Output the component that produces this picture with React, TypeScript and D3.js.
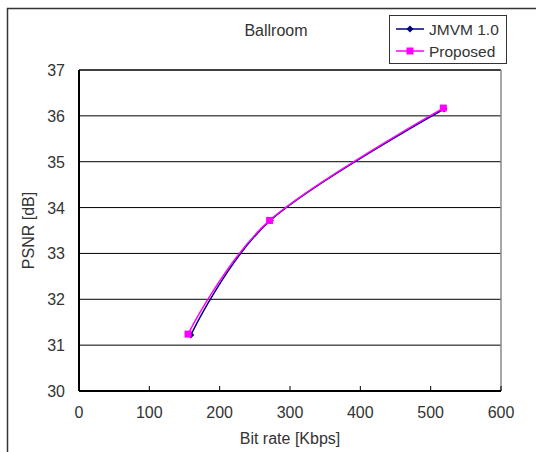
import React from 'react';
import * as d3 from 'd3';

const xTicks = [0, 100, 200, 300, 400, 500, 600];
const yTicks = [30, 31, 32, 33, 34, 35, 36, 37];
const jmvmRate = [159, 272, 519];
const jmvmPsnr = [31.22, 33.72, 36.15];
const propRate = [155, 271, 518];
const propPsnr = [31.24, 33.72, 36.17];

const W = 536;
const H = 452;
const m = { left: 79, right: 501, top: 70, bottom: 391 };
const font = '"Liberation Sans", Arial, sans-serif';

export default function App() {
  const x = d3.scaleLinear().domain([0, 600]).range([m.left, m.right]);
  const y = d3.scaleLinear().domain([30, 37]).range([m.bottom, m.top]);

  const line = d3
    .line<[number, number]>()
    .x((d) => x(d[0]))
    .y((d) => y(d[1]))
    .curve(d3.curveCardinal.tension(0));

  const jmvm: [number, number][] = jmvmRate.map((r, i) => [r, jmvmPsnr[i]]);
  const prop: [number, number][] = propRate.map((r, i) => [r, propPsnr[i]]);

  const diamond = (cx: number, cy: number, s: number) =>
    `M${cx},${cy - s}L${cx + s},${cy}L${cx},${cy + s}L${cx - s},${cy}Z`;

  return (
    <svg
      width={W}
      height={H}
      style={{ position: 'absolute', left: 0, top: 0, background: '#fff' }}
      fontFamily={font}
    >
      {/* outer frame */}
      <path d={`M${W + 5},8.5H7.5V${H + 5}`} fill="none" stroke="#333" strokeWidth={1.5} />

      {/* gridlines */}
      {yTicks.slice(1, -1).map((t) => (
        <line key={t} x1={m.left} x2={m.right} y1={y(t)} y2={y(t)} stroke="#000" strokeWidth={1} />
      ))}
      {/* plot border */}
      <line x1={m.left} x2={m.right} y1={m.top} y2={m.top} stroke="#000" strokeWidth={1.5} />
      <line x1={m.right} x2={m.right} y1={m.top} y2={m.bottom} stroke="#888" strokeWidth={1.5} />
      <line x1={m.left} x2={m.left} y1={m.top} y2={m.bottom} stroke="#000" strokeWidth={2} />
      <line x1={m.left} x2={m.right} y1={m.bottom} y2={m.bottom} stroke="#000" strokeWidth={2} />

      {/* x ticks */}
      {xTicks.map((t) => (
        <g key={t}>
          <line x1={x(t)} x2={x(t)} y1={m.bottom} y2={m.bottom - 5} stroke="#000" strokeWidth={1} />
          <text x={x(t)} y={m.bottom + 27} textAnchor="middle" fontSize={16} fill="#333">
            {t}
          </text>
        </g>
      ))}
      {/* y labels */}
      {yTicks.map((t) => (
        <text key={t} x={65} y={y(t) + 6} textAnchor="end" fontSize={16} fill="#333">
          {t}
        </text>
      ))}

      <text x={290} y={444} textAnchor="middle" fontSize={16} fill="#333">
        Bit rate [Kbps]
      </text>
      <text
        transform={`translate(34,${(m.top + m.bottom) / 2}) rotate(-90)`}
        textAnchor="middle"
        fontSize={16}
        fill="#333"
      >
        PSNR [dB]
      </text>
      <text x={276} y={36} textAnchor="middle" fontSize={16} fill="#333">
        Ballroom
      </text>

      {/* series */}
      <path d={line(jmvm) || ''} fill="none" stroke="#000080" strokeWidth={1.5} />
      {jmvm.map((d, i) => (
        <path key={i} d={diamond(x(d[0]), y(d[1]), 3.5)} fill="#000080" />
      ))}
      <path d={line(prop) || ''} fill="none" stroke="#ff00ff" strokeWidth={1.5} />
      {prop.map((d, i) => (
        <rect key={i} x={x(d[0]) - 3.5} y={y(d[1]) - 3.5} width={7} height={7} fill="#ff00ff" />
      ))}

      {/* legend */}
      <rect x={389.5} y={15.5} width={117} height={48} fill="#fff" stroke="#333" strokeWidth={1} />
      <line x1={396} x2={424} y1={29} y2={29} stroke="#000080" strokeWidth={1.5} />
      <path d={diamond(410, 29, 3.5)} fill="#000080" />
      <text x={429} y={35} fontSize={15.5} fill="#333">
        JMVM 1.0
      </text>
      <line x1={396} x2={424} y1={51} y2={51} stroke="#ff00ff" strokeWidth={1.5} />
      <rect x={406.5} y={47.5} width={7} height={7} fill="#ff00ff" />
      <text x={429} y={57} fontSize={15.5} fill="#333">
        Proposed
      </text>
    </svg>
  );
}
